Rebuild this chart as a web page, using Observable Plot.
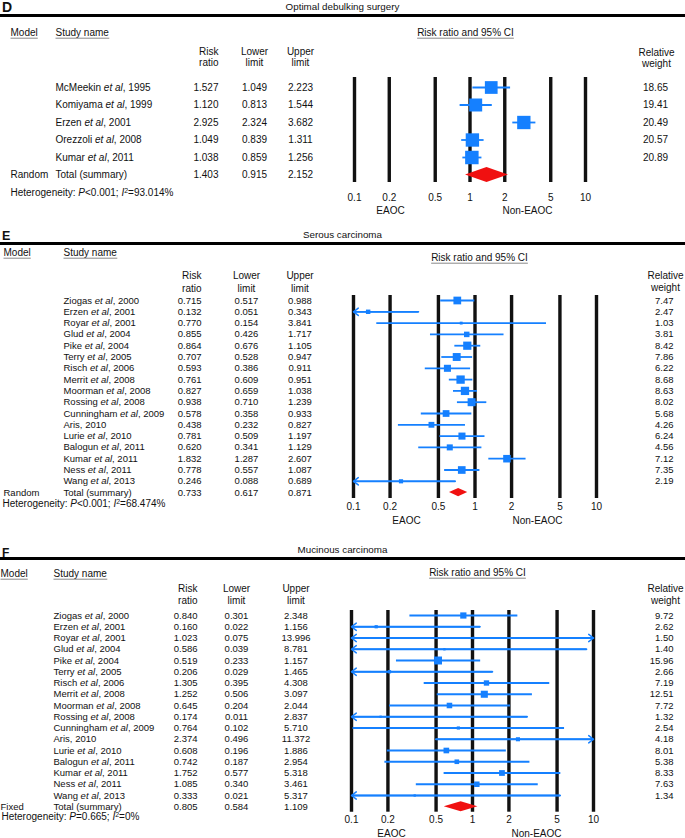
<!DOCTYPE html>
<html>
<head>
<meta charset="utf-8">
<script src="https://cdn.jsdelivr.net/npm/d3@7"></script>
<script src="https://cdn.jsdelivr.net/npm/@observablehq/plot@0.6"></script>
<style>
  html, body { margin: 0; padding: 0; background: #fff; overflow: hidden; }
  #fig { position: relative; width: 685px; height: 838px; overflow: hidden; color: #111;
         font-family: "Liberation Sans", Arial, Helvetica, sans-serif; }
  #fig > * { position: absolute; }
  .letter { left: 2px; font-weight: bold; line-height: 1; }
  .title { left: 0; width: 685px; text-align: center; font-size: 9.8px; line-height: 1; }
  .rule { left: 0; width: 685px; height: 3px; background: #000; }
  #fig svg { left: 0; }
</style>
</head>
<body>
<div id="fig">
  <div class="letter" style="top:0px;font-size:14px">D</div>
  <div class="title" style="top:2px">Optimal debulking surgery</div>
  <div class="rule" style="top:14px"></div>
  <div class="letter" style="top:229.8px;font-size:12.5px">E</div>
  <div class="title" style="top:230px">Serous carcinoma</div>
  <div class="rule" style="top:242px"></div>
  <div class="letter" style="top:546.8px;font-size:12px">F</div>
  <div class="title" style="top:545px">Mucinous carcinoma</div>
  <div class="rule" style="top:557px"></div>
</div>
<script>
// ---------------- data ----------------
const ticks = [0.1, 0.2, 0.5, 1, 2, 5, 10];

// D: Optimal debulking surgery
const dStudies = ["McMeekin et al, 1995", "Komiyama et al, 1999", "Erzen et al, 2001", "Orezzoli et al, 2008", "Kumar et al, 2011"];
const dRisk   = [1.527, 1.120, 2.925, 1.049, 1.038];
const dLower  = [1.049, 0.813, 2.324, 0.839, 0.859];
const dUpper  = [2.223, 1.544, 3.682, 1.311, 1.256];
const dWeight = [18.65, 19.41, 20.49, 20.57, 20.89];
const dSummary = [1.403, 0.915, 2.152];
const dModel = "Random";
const dHetP = "<0.001";
const dHetI2 = "93.014%";

// E: Serous carcinoma
const eStudies = ["Ziogas et al, 2000", "Erzen et al, 2001", "Royar et al, 2001", "Glud et al, 2004", "Pike et al, 2004",
  "Terry et al, 2005", "Risch et al, 2006", "Merrit et al, 2008", "Moorman et al, 2008", "Rossing et al, 2008",
  "Cunningham et al, 2009", "Aris, 2010", "Lurie et al, 2010", "Balogun et al, 2011", "Kumar et al, 2011",
  "Ness et al, 2011", "Wang et al, 2013"];
const eRisk   = [0.715, 0.132, 0.770, 0.855, 0.864, 0.707, 0.593, 0.761, 0.827, 0.938, 0.578, 0.438, 0.781, 0.620, 1.832, 0.778, 0.246];
const eLower  = [0.517, 0.051, 0.154, 0.426, 0.676, 0.528, 0.386, 0.609, 0.659, 0.710, 0.358, 0.232, 0.509, 0.341, 1.287, 0.557, 0.088];
const eUpper  = [0.988, 0.343, 3.841, 1.717, 1.105, 0.947, 0.911, 0.951, 1.038, 1.239, 0.933, 0.827, 1.197, 1.129, 2.607, 1.087, 0.689];
const eWeight = [7.47, 2.47, 1.03, 3.81, 8.42, 7.86, 6.22, 8.68, 8.63, 8.02, 5.68, 4.26, 6.24, 4.56, 7.12, 7.35, 2.19];
const eSummary = [0.733, 0.617, 0.871];
const eModel = "Random";
const eHetP = "<0.001";
const eHetI2 = "68.474%";

// F: Mucinous carcinoma
const fStudies = eStudies.slice();
const fRisk   = [0.840, 0.160, 1.023, 0.586, 0.519, 0.206, 1.305, 1.252, 0.645, 0.174, 0.764, 2.374, 0.608, 0.742, 1.752, 1.085, 0.333];
const fLower  = [0.301, 0.022, 0.075, 0.039, 0.233, 0.029, 0.395, 0.506, 0.204, 0.011, 0.102, 0.496, 0.196, 0.187, 0.577, 0.340, 0.021];
const fUpper  = [2.348, 1.156, 13.996, 8.781, 1.157, 1.465, 4.308, 3.097, 2.044, 2.837, 5.710, 11.372, 1.886, 2.954, 5.318, 3.461, 5.317];
const fWeight = [9.72, 2.62, 1.50, 1.40, 15.96, 2.66, 7.19, 12.51, 7.72, 1.32, 2.54, 4.18, 8.01, 5.38, 8.33, 7.63, 1.34];
const fSummary = [0.805, 0.584, 1.109];
const fModel = "Fixed";
const fHetP = "=0.665";
const fHetI2 = "0%";

// ---------------- layout (pixels) ----------------
const layoutD = {top: 17, height: 205, x0: 354, x1: 585, lineTop: 60, lineBottom: 165, row0: 70, rowStep: 17.5,
  fontSize: 10, hdrY: 15, ciHdrY: 15, colHdrY: 39.5, wHdrY: 40, lh: 1.1,
  modelX: 10, studyX: 55, rrX: 218, loX: 254, hiX: 300, ciHdrX: 465, wX: 655, wAnchor: "middle", wHdrX: 656,
  hetX: 10, hetY: 175, tickY: 180, sideY: 193, eaocX: 390, nonX: 527, rMax: 7.6, dh: 0.43};
const layoutE = {top: 245, height: 285, x0: 353, x1: 596, lineTop: 50, lineBottom: 253, row0: 55, rowStep: 11.3,
  fontSize: 9.5, hdrY: 7, ciHdrY: 12, colHdrY: 36, wHdrY: 35.5, lh: 1.22,
  modelX: 3, studyX: 63, rrX: 201, loX: 246, hiX: 299.5, ciHdrX: 479, wX: 673, wAnchor: "end", wHdrX: 665,
  hetX: 2, hetY: 258, tickY: 261, sideY: 275, eaocX: 406, nonX: 537, rMax: 4.7, dh: 0.36};
const layoutF = {top: 560, height: 278, x0: 351, x1: 593, lineTop: 50, lineBottom: 251.7, row0: 55, rowStep: 11.25,
  fontSize: 9.5, hdrY: 13, ciHdrY: 12, colHdrY: 34, wHdrY: 34, lh: 1.2,
  modelX: 0, studyX: 53, rrX: 197, loX: 236, hiX: 295.5, ciHdrX: 477, wX: 673, wAnchor: "end", wHdrX: 665,
  hetX: 1, hetY: 256, tickY: 259, sideY: 273, eaocX: 391, nonX: 536, rMax: 4.5, dh: 0.44};

const FONT = '"Liberation Sans", Arial, Helvetica, sans-serif';
const BLUE = "#1580ff";
const RED = "#f01010";
const fmt3 = d3.format(".3f");
const fmt2 = d3.format(".2f");
const NS = "http://www.w3.org/2000/svg";

function panel(data, L) {
  const n = data.studies.length;
  const rows = data.studies.map((s, i) => ({study: s, rr: data.risk[i], lo: data.lower[i], hi: data.upper[i], w: data.weight[i], row: i}));
  const total = {study: "Total (summary)", model: data.model, rr: data.summary[0], lo: data.summary[1], hi: data.summary[2], row: n};
  const table = rows.concat([total]);
  const ml = L.x0, mr = 685 - L.x1, mt = L.lineTop, mb = L.height - L.lineBottom;
  const dx = px => px - ml;
  const fs = L.fontSize;
  const xmin = ticks[0], xmax = ticks[ticks.length - 1];
  const diamond = [
    {x: total.lo, y1: n, y2: n},
    {x: total.rr, y1: n - L.dh, y2: n + L.dh},
    {x: total.hi, y1: n, y2: n}
  ];
  const het = `Heterogeneity: *P*${data.hetP}; *I*^2^=${data.hetI2}`;
  const col = (arr, text, px, anchor, extra = {}) =>
    Plot.text(arr, {y: "row", text, frameAnchor: "left", dx: dx(px), textAnchor: anchor, lineAnchor: "middle", fontSize: fs, ...extra});
  const hdr = (label, px, py, anchor, extra = {}) =>
    Plot.text([label], {text: d => d, frameAnchor: "top-left", dx: dx(px), dy: py - mt, textAnchor: anchor, lineAnchor: "middle", fontSize: 10, ...extra});
  const bot = (label, px, py, anchor, extra = {}) =>
    Plot.text([label], {text: d => d, frameAnchor: "bottom-left", dx: dx(px), dy: py - L.lineBottom, textAnchor: anchor, lineAnchor: "middle", fontSize: 10, ...extra});

  const svg = Plot.plot({
    width: 685, height: L.height,
    marginLeft: ml, marginRight: mr, marginTop: mt, marginBottom: mb,
    style: {fontFamily: FONT, fontSize: "10px", color: "#111", background: "white", overflow: "visible"},
    x: {type: "log", domain: [xmin, xmax], clamp: true, axis: null},
    y: {domain: [(L.lineTop - L.row0) / L.rowStep, (L.lineBottom - L.row0) / L.rowStep], reverse: true, axis: null},
    r: {type: "sqrt", domain: [0, d3.max(data.weight)], range: [0, L.rMax]},
    marks: [
      Plot.ruleX(ticks, {stroke: "#111", strokeWidth: 3.4}),
      Plot.link(rows, {x1: "lo", x2: "hi", y1: "row", y2: "row", stroke: BLUE, strokeWidth: 1.8}),
      Plot.arrow(rows.filter(d => d.lo < xmin), {x1: "hi", x2: "lo", y1: "row", y2: "row", stroke: BLUE, strokeWidth: 1.5, headLength: 6, headAngle: 75}),
      Plot.arrow(rows.filter(d => d.hi > xmax), {x1: "lo", x2: "hi", y1: "row", y2: "row", stroke: BLUE, strokeWidth: 1.5, headLength: 6, headAngle: 75}),
      Plot.dot(rows, {x: "rr", y: "row", r: "w", symbol: "square", fill: BLUE}),
      Plot.areaY(diamond, {x: "x", y1: "y1", y2: "y2", fill: RED}),
      // tick labels of the log axis
      Plot.text(ticks, {x: d => d, text: d => String(d), frameAnchor: "bottom", dy: L.tickY - L.lineBottom, lineAnchor: "middle", fontSize: 10}),
      // headers
      hdr("Model", L.modelX, L.hdrY, "start", {ariaDescription: "underline"}),
      hdr("Study name", L.studyX, L.hdrY, "start", {ariaDescription: "underline"}),
      hdr("Risk\nratio", L.rrX, L.colHdrY, "end", {lineHeight: L.lh}),
      hdr("Lower\nlimit", L.loX, L.colHdrY, "middle", {lineHeight: L.lh}),
      hdr("Upper\nlimit", L.hiX, L.colHdrY, "middle", {lineHeight: L.lh}),
      hdr("Risk ratio and 95% CI", L.ciHdrX, L.ciHdrY, "middle", {ariaDescription: "underline"}),
      hdr("Relative\nweight", L.wHdrX, L.wHdrY, "middle", {lineHeight: L.lh}),
      // table body
      col(table, d => d.study.replace("et al", "*et al*"), L.studyX, "start", {ariaDescription: "rich"}),
      col([total], "model", L.modelX, "start"),
      col(table, d => fmt3(d.rr), L.rrX, "end"),
      col(table, d => fmt3(d.lo), L.loX, "middle"),
      col(table, d => fmt3(d.hi), L.hiX, "middle"),
      col(rows, d => fmt2(d.w), L.wX, L.wAnchor),
      // footer
      bot(het, L.hetX, L.hetY, "start", {ariaDescription: "rich"}),
      bot("EAOC", L.eaocX, L.sideY, "middle"),
      bot("Non-EAOC", L.nonX, L.sideY, "middle")
    ]
  });
  svg.style.position = "absolute";
  svg.style.top = L.top + "px";
  svg.style.left = "0px";
  document.getElementById("fig").appendChild(svg);

  // rich text: *italic* and ^superscript^
  svg.querySelectorAll("text").forEach(t => {
    const s = t.textContent;
    if (!/[*^]/.test(s)) return;
    const parts = s.match(/(\*[^*]+\*|\^[^^]+\^|[^*^]+)/g) || [];
    t.textContent = "";
    for (const m of parts) {
      const ts = document.createElementNS(NS, "tspan");
      if (m[0] === "*") { ts.textContent = m.slice(1, -1); ts.setAttribute("font-style", "italic"); }
      else if (m[0] === "^") { ts.textContent = m.slice(1, -1); ts.setAttribute("baseline-shift", "super"); ts.setAttribute("font-size", "0.7em"); }
      else ts.textContent = m;
      t.appendChild(ts);
    }
  });
  // underlines
  svg.querySelectorAll('[aria-description="underline"] text').forEach(t => {
    const b = t.getBBox();
    const line = document.createElementNS(NS, "line");
    line.setAttribute("x1", b.x);
    line.setAttribute("x2", b.x + b.width);
    line.setAttribute("y1", b.y + b.height + 0.5);
    line.setAttribute("y2", b.y + b.height + 0.5);
    line.setAttribute("stroke", "#888");
    line.setAttribute("stroke-width", "1");
    if (t.getAttribute("transform")) line.setAttribute("transform", t.getAttribute("transform"));
    t.parentNode.appendChild(line);
  });
}

panel({studies: dStudies, risk: dRisk, lower: dLower, upper: dUpper, weight: dWeight, summary: dSummary,
       model: dModel, hetP: dHetP, hetI2: dHetI2}, layoutD);
panel({studies: eStudies, risk: eRisk, lower: eLower, upper: eUpper, weight: eWeight, summary: eSummary,
       model: eModel, hetP: eHetP, hetI2: eHetI2}, layoutE);
panel({studies: fStudies, risk: fRisk, lower: fLower, upper: fUpper, weight: fWeight, summary: fSummary,
       model: fModel, hetP: fHetP, hetI2: fHetI2}, layoutF);
</script>
</body>
</html>
